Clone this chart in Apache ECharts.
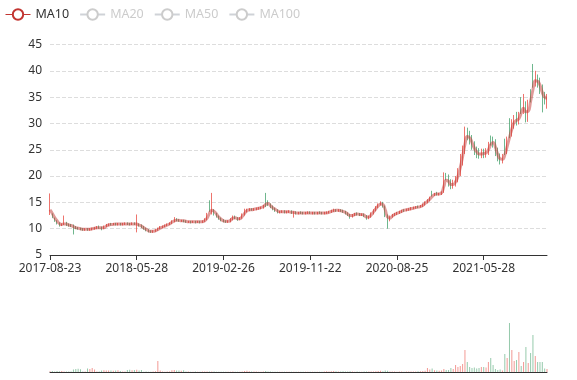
<!DOCTYPE html>
<html><head><meta charset="utf-8">
<script src="https://cdn.jsdelivr.net/npm/echarts@6/dist/echarts.min.js"></script>
<style>html,body{margin:0;padding:0;background:#fff}#c{width:577px;height:380px}</style>
</head><body><div id="c"></div>
<script>
// Tick labels shown on the time axis (one every 37 weekly points)
const tickLabels = ['2017-08-23','2018-05-28','2019-02-26','2019-11-22','2020-08-25','2021-05-28'];
const legendNames = ['MA10','MA20','MA50','MA100'];

const opens = [
12.8,12.6,11.9,11.4,11.0,10.6,10.9,11.1,10.8,10.7,
10.6,10.3,10.1,10.0,9.9,9.8,9.9,9.8,9.9,10.0,
10.1,10.4,10.2,10.1,10.4,10.7,10.9,10.8,10.9,10.8,
10.9,10.8,10.9,11.0,10.9,10.8,11.0,10.6,10.8,10.6,
10.3,10.0,9.7,9.5,9.4,9.5,9.7,10.0,10.3,10.4,
10.6,10.8,11.0,11.4,11.8,11.6,11.4,11.5,11.4,11.2,
11.3,11.2,11.3,11.2,11.3,11.2,11.4,11.8,14.6,12.9,
13.4,12.8,12.3,11.9,11.6,11.4,11.3,11.4,11.8,12.3,
12.0,11.7,12.0,12.7,13.3,13.5,13.7,13.6,13.7,13.8,
13.9,14.0,15.6,15.2,14.6,14.2,13.8,13.5,13.1,13.2,
13.3,13.1,13.2,13.3,13.0,13.1,12.9,13.1,13.0,12.9,
13.0,13.1,12.9,13.0,12.9,13.1,13.0,12.9,13.0,13.1,
13.2,13.4,13.5,13.4,13.5,13.4,13.2,12.9,12.6,12.3,
12.6,12.9,12.8,12.6,12.7,12.4,12.0,12.3,12.9,13.5,
14.1,14.6,14.9,14.2,12.5,11.6,12.3,12.6,12.8,13.0,
13.2,13.6,13.5,13.6,13.7,13.9,14.0,14.3,14.2,14.3,
14.6,15.0,15.4,16.9,16.4,16.8,16.5,16.6,17.0,20.4,
19.6,18.6,18.1,18.6,19.3,20.6,22.6,24.8,28.6,27.8,
26.9,25.8,24.8,24.5,24.0,24.4,24.1,24.5,27.2,26.6,
26.3,24.6,23.5,23.0,26.0,24.8,29.5,28.2,29.8,31.2,
30.5,34.6,32.6,33.2,31.0,35.8,40.2,37.9,38.4,37.8,
36.6,35.0,34.0];

const closes = [
13.0,12.2,11.5,11.0,10.6,10.8,11.2,10.7,10.6,10.5,
10.3,10.1,10.0,9.9,9.8,9.9,9.8,9.9,10.0,10.1,
10.3,10.2,10.0,10.4,10.7,10.8,10.8,10.9,10.8,10.9,
10.8,10.9,11.0,10.9,10.8,11.0,10.9,10.8,10.6,10.3,
10.0,9.7,9.5,9.4,9.5,9.7,10.0,10.3,10.4,10.6,
10.8,11.0,11.4,11.7,11.6,11.5,11.5,11.4,11.3,11.3,
11.2,11.3,11.2,11.3,11.2,11.4,11.8,12.8,14.0,13.6,
12.8,12.3,11.9,11.6,11.4,11.3,11.4,11.8,12.3,12.0,
11.7,12.0,12.7,13.3,13.5,13.6,13.6,13.7,13.8,13.9,
14.0,14.3,15.0,14.6,14.2,13.8,13.5,13.2,13.2,13.3,
13.1,13.2,13.3,13.0,13.1,12.9,13.0,13.0,12.9,13.0,
13.1,13.0,13.0,12.9,13.0,13.0,12.9,13.0,13.1,13.2,
13.4,13.5,13.4,13.5,13.4,13.2,12.9,12.6,12.3,12.6,
12.8,12.8,12.6,12.7,12.4,12.0,12.3,12.9,13.5,14.1,
14.6,14.9,14.2,12.5,11.6,12.3,12.6,12.8,13.0,13.2,
13.4,13.5,13.6,13.7,13.9,14.0,14.1,14.2,14.3,14.6,
15.0,15.4,15.9,16.4,16.6,16.5,16.6,16.9,19.2,19.6,
18.6,18.1,18.6,19.3,20.6,22.6,24.8,27.6,27.8,26.9,
25.8,24.8,24.2,24.0,24.4,24.1,24.5,25.6,26.6,26.3,
24.6,23.5,23.0,23.3,24.8,26.6,28.2,29.8,30.7,30.5,
31.2,32.8,33.2,31.0,33.5,35.0,38.0,38.4,37.8,36.6,
35.0,34.6,34.8];

const lows = [
12.6,12.0,11.3,10.8,10.4,10.5,10.7,10.5,10.4,10.3,
8.9,9.9,9.8,9.7,9.6,9.6,9.6,9.6,9.7,9.8,
9.9,10.0,9.7,9.9,10.3,10.5,10.6,10.7,10.6,10.6,
10.6,10.6,10.7,10.7,10.6,10.7,10.7,9.3,10.4,10.1,
9.8,9.5,9.3,9.2,9.2,9.4,9.6,9.9,10.1,10.3,
10.5,10.7,10.9,11.2,11.4,11.3,11.3,11.2,11.1,11.1,
11.0,11.1,11.0,11.1,11.0,11.1,11.3,11.6,13.2,12.7,
12.5,12.1,11.7,11.4,11.2,11.1,11.1,11.2,11.6,11.8,
11.5,11.6,11.9,12.5,13.1,13.3,13.4,13.4,13.5,13.6,
13.7,13.8,14.1,14.3,13.9,13.5,13.2,12.9,12.9,13.0,
12.9,12.9,13.0,12.8,12.1,12.7,12.7,12.8,12.7,12.7,
12.8,12.8,12.7,12.7,12.7,12.8,12.7,12.7,12.8,12.9,
13.0,13.2,13.2,13.2,13.2,13.0,12.7,12.4,11.9,12.1,
12.4,12.5,12.4,12.4,12.2,11.7,11.8,12.1,12.7,13.3,
13.9,14.4,14.0,12.2,10.0,11.4,12.1,12.4,12.6,12.8,
13.0,13.2,13.3,13.4,13.5,13.7,13.8,13.9,14.0,14.1,
14.4,14.8,15.2,16.1,16.2,16.3,16.3,16.4,16.8,19.2,
18.0,17.5,17.6,18.0,18.8,20.0,22.0,24.2,26.8,26.0,
25.0,24.0,23.4,23.3,23.4,23.4,23.5,24.0,25.8,25.4,
23.8,22.8,22.2,22.4,24.0,24.2,27.2,27.5,29.0,29.6,
29.8,31.8,31.8,30.2,30.3,34.0,36.8,37.0,36.8,35.6,
32.1,33.6,32.8];

const highs = [
16.7,12.9,12.1,11.6,11.2,11.0,12.5,11.3,11.0,10.9,
10.8,10.5,10.3,10.2,10.1,10.1,10.1,10.1,10.2,10.3,
10.5,10.6,10.4,10.6,10.9,11.0,11.1,11.1,11.1,11.1,
11.1,11.1,11.2,11.2,11.1,11.2,11.2,12.7,11.0,10.8,
10.5,10.2,9.9,9.7,9.7,9.9,10.2,10.5,10.6,10.8,
11.0,11.2,11.6,12.2,12.0,11.8,11.7,11.7,11.6,11.5,
11.5,11.5,11.5,11.5,11.5,11.6,12.0,13.0,15.4,16.8,
13.7,13.0,12.5,12.1,11.8,11.6,11.6,12.0,12.5,12.5,
12.2,12.2,12.9,13.8,13.8,13.9,13.9,13.9,14.0,14.1,
14.2,14.5,16.8,15.4,14.8,14.4,14.0,13.7,13.4,13.5,
13.5,13.4,13.5,13.5,13.3,13.3,13.2,13.3,13.2,13.2,
13.3,13.3,13.2,13.2,13.2,13.3,13.2,13.2,13.3,13.4,
13.6,13.8,13.7,13.7,13.7,13.6,13.4,13.1,12.8,12.8,
13.0,13.1,13.0,12.9,12.9,12.6,12.5,13.1,13.7,14.3,
14.8,15.2,15.1,14.4,12.7,12.5,12.8,13.0,13.2,13.4,
13.6,13.7,13.8,13.9,14.1,14.2,14.3,14.4,14.5,14.8,
15.2,15.6,16.1,17.2,16.8,17.0,16.8,17.1,20.7,20.6,
20.3,19.4,19.3,20.0,21.5,24.2,25.8,29.4,29.2,28.6,
27.8,26.6,25.6,25.3,25.2,25.2,25.3,26.5,27.7,27.5,
27.0,25.4,24.3,24.2,27.1,27.5,31.0,30.8,31.6,32.2,
32.2,35.0,35.6,34.2,34.5,36.5,41.3,40.0,39.3,38.7,
37.4,36.0,35.6];

const ma10 = [
13.6,12.9,12.1,11.5,11.0,10.8,10.9,10.9,10.7,10.6,
10.4,10.2,10.1,10.0,9.9,9.9,9.9,9.9,10.0,10.1,
10.2,10.2,10.2,10.2,10.5,10.7,10.8,10.8,10.9,10.9,
10.9,10.9,10.9,10.9,10.9,10.9,10.9,10.9,10.7,10.5,
10.2,9.9,9.6,9.5,9.5,9.6,9.8,10.1,10.3,10.5,
10.7,10.9,11.2,11.5,11.6,11.6,11.5,11.5,11.4,11.3,
11.3,11.3,11.3,11.3,11.3,11.3,11.5,12.0,12.9,13.5,
13.3,12.8,12.2,11.8,11.5,11.4,11.4,11.6,12.0,12.1,
11.9,11.9,12.3,12.9,13.4,13.6,13.6,13.7,13.8,13.9,
14.0,14.2,14.6,14.8,14.4,14.0,13.7,13.4,13.2,13.2,
13.2,13.2,13.2,13.1,13.1,13.0,13.0,13.0,13.0,13.0,
13.0,13.0,13.0,13.0,13.0,13.0,13.0,13.0,13.0,13.1,
13.3,13.4,13.5,13.5,13.4,13.3,13.1,12.8,12.5,12.5,
12.7,12.8,12.7,12.7,12.6,12.2,12.2,12.6,13.2,13.8,
14.3,14.7,14.6,13.6,12.2,12.0,12.4,12.7,12.9,13.1,
13.3,13.5,13.6,13.7,13.8,13.9,14.0,14.1,14.2,14.4,
14.8,15.2,15.6,16.1,16.5,16.6,16.6,16.8,18.0,19.2,
19.0,18.4,18.4,18.9,19.9,21.6,23.7,26.0,27.5,27.3,
26.4,25.3,24.6,24.2,24.2,24.3,24.4,25.0,26.0,26.4,
25.5,24.1,23.3,23.2,24.0,25.6,27.3,28.9,30.2,30.6,
30.9,32.0,32.9,32.2,32.3,34.2,36.4,38.1,38.0,37.3,
35.9,35.0,34.8];

// volume (10k lots)
const volumes = [
0.8,1.0,0.6,0.9,0.7,1.0,0.5,0.6,0.4,0.5,
2.5,3.0,3.2,2.8,0.6,0.5,3.5,3.0,4.0,2.5,
0.4,0.5,1.6,1.8,1.5,1.4,1.6,1.2,1.5,1.8,
1.0,0.4,0.5,2.0,2.2,1.8,2.0,2.2,1.5,2.0,
0.3,0.4,0.3,0.3,0.5,0.8,11.0,1.5,0.4,0.3,
0.5,0.6,1.8,2.0,1.6,1.5,1.2,1.8,0.5,0.4,
0.3,0.3,0.4,0.3,0.3,0.4,0.5,0.4,0.5,0.6,
0.4,0.3,0.3,0.3,0.3,0.2,0.3,0.3,0.4,0.3,
0.3,0.3,0.5,1.0,1.2,0.8,0.6,0.5,0.4,0.3,
0.3,0.5,1.0,0.6,0.4,0.3,0.3,0.3,0.2,0.3,
0.2,0.3,0.3,0.2,0.3,0.3,0.2,0.2,0.3,0.2,
0.2,0.3,0.2,0.2,0.3,0.2,0.3,0.5,0.8,0.6,
0.8,0.9,0.7,0.6,0.5,0.8,0.6,0.5,0.7,0.4,
0.3,0.4,0.3,0.3,0.4,0.5,0.4,0.5,0.6,0.8,
1.0,1.2,0.8,1.5,1.2,0.6,0.4,0.4,0.3,0.4,
0.4,0.3,0.4,0.4,0.5,0.5,0.6,0.7,0.8,1.0,
1.2,4.0,2.5,3.5,1.8,1.5,1.2,1.5,3.0,2.0,
2.0,4.0,3.0,7.0,5.0,6.0,8.0,22.0,10.0,5.0,
4.0,4.5,3.5,4.0,5.0,5.0,4.5,10.0,14.0,7.0,
3.0,2.0,2.5,1.5,18.0,14.0,49.0,22.0,11.0,12.0,
20.0,6.0,10.0,25.0,9.0,19.0,37.0,16.0,10.0,10.0,
10.0,3.5,3.0];

// category dates: anchored on the tick labels, 37 weekly points per segment
const STEP = 37;
const dates = (function () {
  const out = [];
  const t = tickLabels.map(s => Date.parse(s + 'T00:00:00Z'));
  const fmt = ms => new Date(ms).toISOString().slice(0, 10);
  for (let i = 0; i < closes.length; i++) {
    const seg = Math.floor(i / STEP), k = i % STEP;
    if (seg < t.length - 1) {
      const d = (t[seg + 1] - t[seg]) / STEP;
      out.push(fmt(t[seg] + Math.round(k * d / 864e5) * 864e5));
    } else {
      const j = i - (t.length - 1) * STEP;
      out.push(fmt(t[t.length - 1] + Math.round(j * 7.45) * 864e5));
    }
  }
  return out;
})();

const kData = opens.map((o, i) => [o, closes[i], lows[i], highs[i]]);
const UP = '#e8463c', DOWN = '#3f9f68';
const FONT = "'Microsoft YaHei', 'Noto Sans', sans-serif";

const chart = echarts.init(document.getElementById('c'), null, {renderer: 'canvas'});
chart.setOption({
  animation: false,
  textStyle: {fontFamily: FONT},
  legend: {
    data: legendNames,
    left: 0, top: 3, itemGap: 10, itemWidth: 25, itemHeight: 13,
    padding: 5,
    textStyle: {fontSize: 12.5, color: '#333', fontFamily: FONT},
    itemStyle: {borderWidth: 1},
    lineStyle: {width: 1, opacity: 1},
    inactiveColor: '#ccc',
    selected: {MA10: true, MA20: false, MA50: false, MA100: false}
  },
  grid: [
    {left: 50, right: 30, top: 44.5, height: 210.5},
    {left: 50, right: 30, top: 322, height: 50}
  ],
  xAxis: [
    {type: 'category', data: dates, boundaryGap: false, gridIndex: 0,
     axisLine: {lineStyle: {color: '#333'}},
     axisTick: {interval: STEP - 1, length: 5, lineStyle: {color: '#333'}},
     axisLabel: {interval: STEP - 1, color: '#333', fontSize: 12, fontFamily: FONT},
     splitLine: {show: false}},
    {type: 'category', data: dates, boundaryGap: false, gridIndex: 1,
     axisLine: {lineStyle: {color: '#333'}},
     axisTick: {show: false}, axisLabel: {show: false}, splitLine: {show: false}}
  ],
  yAxis: [
    {type: 'value', gridIndex: 0, min: 5, max: 45, interval: 5,
     axisLine: {show: false}, axisTick: {show: false},
     axisLabel: {color: '#333', fontSize: 12, fontFamily: FONT},
     splitLine: {lineStyle: {color: '#ddd', type: 'dashed'}}},
    {type: 'value', gridIndex: 1, show: false, min: 0, max: 50,
     splitLine: {show: false}}
  ],
  series: [
    {name: 'K', type: 'candlestick', xAxisIndex: 0, yAxisIndex: 0, data: kData,
     barWidth: 1,
     itemStyle: {color: UP, color0: DOWN, borderColor: UP, borderColor0: DOWN, borderWidth: 1, opacity: 0.75}},
    {name: 'MA10', type: 'line', data: ma10, smooth: true, showSymbol: false,
     color: '#c23531', lineStyle: {width: 3, opacity: 0.5}},
    {name: 'MA20', type: 'line', data: [], smooth: true, showSymbol: false, color: '#2f4554', lineStyle: {opacity: 0.5}},
    {name: 'MA50', type: 'line', data: [], smooth: true, showSymbol: false, color: '#61a0a8', lineStyle: {opacity: 0.5}},
    {name: 'MA100', type: 'line', data: [], smooth: true, showSymbol: false, color: '#d48265', lineStyle: {opacity: 0.5}},
    {name: 'Volume', type: 'bar', xAxisIndex: 1, yAxisIndex: 1, data: volumes, barWidth: 1,
     itemStyle: {color: p => closes[p.dataIndex] >= opens[p.dataIndex] ? 'rgba(232,70,60,0.55)' : 'rgba(63,159,104,0.55)'}}
  ]
});
</script>
</body></html>
